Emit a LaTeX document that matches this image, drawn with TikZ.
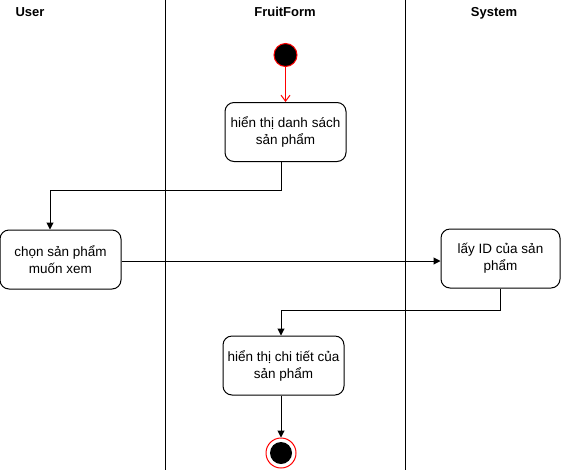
\documentclass[tikz,border=0pt]{standalone}
\usepackage{fontspec}
\setmainfont{Liberation Sans}
\usetikzlibrary{arrows.meta}

\tikzset{
  action/.style={draw, rounded corners=9pt, minimum width=121pt, minimum height=59pt,
    inner sep=1pt, align=center, line width=1pt, font=\fontsize{13.5}{17}\selectfont},
  lanelabel/.style={anchor=base, font=\bfseries\fontsize{13}{15}\selectfont},
  flow/.style={-{Triangle[length=7pt,width=7pt]}, line width=1pt},
  startflow/.style={-{Straight Barb[length=6pt,width=9pt]}, red, line width=1pt},
}

\begin{document}
\begin{tikzpicture}[x=1pt,y=-1pt]

\useasboundingbox (0,0) rectangle (561,472);

% Swimlanes
\draw[line width=1pt] (165,0) -- (165,470);
\draw[line width=1pt] (405,0) -- (405,470);
\node[lanelabel] (user) at (30,16) {User};
\node[lanelabel] (form) at (285,16) {FruitForm};
\node[lanelabel] (sys) at (494,16) {System};

% Start
\node[circle, draw=red, fill=black, line width=1pt, minimum size=23pt, inner sep=0pt] (start) at (285.5,55) {};

% Actions
\node[action] (show) at (285.5,132) {hiển thị danh sách\\sản phẩm};
\node[action] (choose) at (60.5,259.5) {chọn sản phẩm\\muốn xem};
\node[action, minimum width=119pt] (getid) at (500.5,258.5) {lấy ID của sản\\phẩm};
\node[action] (detail) at (283.5,365.5) {hiển thị chi tiết của\\sản phẩm};

% End
\node[circle, draw=red, line width=1pt, minimum size=30pt, inner sep=0pt] (stop) at (281,453) {};
\fill (stop.center) circle (11);

% Flows
\draw[startflow] (start) -- (show);
\draw[flow] ([xshift=-4.5pt]show.south) -- ++(0,28) -| ([xshift=-10.5pt]choose.north);
\draw[flow] (choose.east |- 0,261) -- (getid.west |- 0,261);
\draw[flow] (getid.south) -- ++(0,22) -| ([xshift=-2.5pt]detail.north);
\draw[flow] ([xshift=-2.5pt]detail.south) -- (stop.north);

\end{tikzpicture}
\end{document}
